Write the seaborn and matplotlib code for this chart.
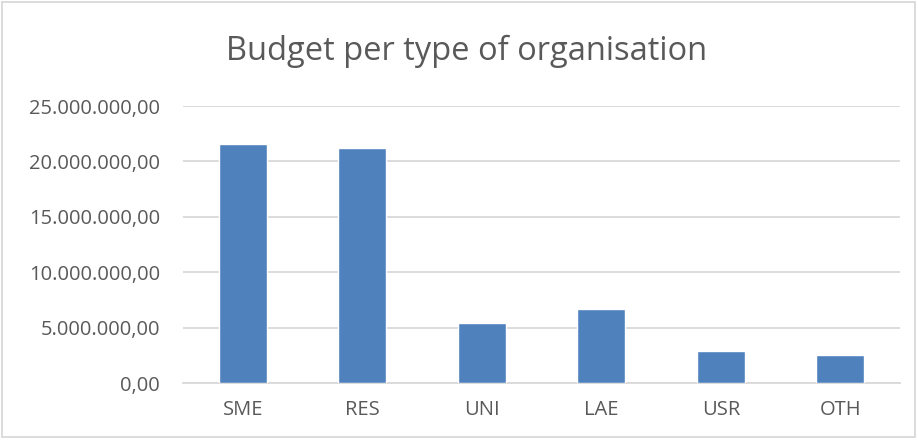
import matplotlib
matplotlib.use("Agg")
import matplotlib.pyplot as plt
import seaborn as sns
import pandas as pd
from matplotlib.ticker import FuncFormatter
from matplotlib.patches import Rectangle

categories = ["SME", "RES", "UNI", "LAE", "USR", "OTH"]
budget = [21570000, 21180000, 5390000, 6650000, 2890000, 2500000]
yticks = [0, 5000000, 10000000, 15000000, 20000000, 25000000]

sns.set_theme(style="white")
plt.rcParams['font.family'] = ['Open Sans', 'DejaVu Sans']

df = pd.DataFrame({"type": categories, "budget": budget})

fig = plt.figure(figsize=(9.18, 4.40), dpi=100)
ax = fig.add_axes([183/918, 1-383/440, (900-183)/918, (383-106)/440])
sns.barplot(data=df, x="type", y="budget", color="#4F81BD", width=0.4,
            saturation=1, ax=ax, zorder=3)

def fmt(v, pos):
    s = f"{v:,.2f}"
    return s.replace(",", "X").replace(".", ",").replace("X", ".")

ax.set_ylim(0, 25000000)
ax.set_yticks(yticks)
ax.yaxis.set_major_formatter(FuncFormatter(fmt))
ax.grid(axis="y", color="#D9D9D9", linewidth=1.3, zorder=0)
ax.set_xlabel("")
ax.set_ylabel("")
for s in ["left", "right", "top"]:
    ax.spines[s].set_visible(False)
ax.spines["bottom"].set_color("#D9D9D9")
ax.spines["bottom"].set_linewidth(1.3)
ax.tick_params(axis="both", colors="#595959", labelsize=14.5, length=0)
ax.tick_params(axis="x", pad=12)
ax.tick_params(axis="y", pad=16.5)

fig.text(467/918, 1-51/440, "Budget per type of organisation", ha="center", va="center",
         fontsize=23.5, color="#595959")

fig.patches.append(Rectangle((2/918, 3/440), 913/918, 435/440, transform=fig.transFigure,
                             fill=False, edgecolor="#D9D9D9", linewidth=1.3))

fig.savefig("out.png", dpi=100, facecolor="white")
